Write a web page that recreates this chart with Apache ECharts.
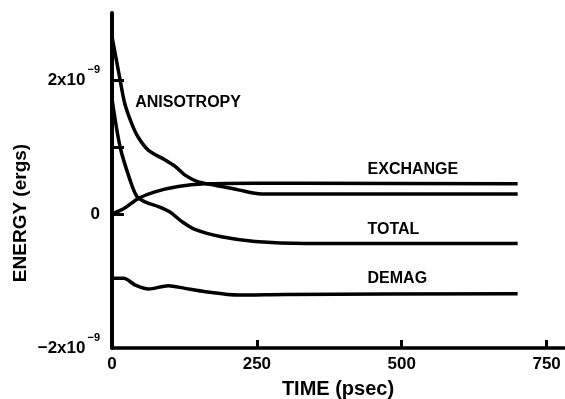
<!DOCTYPE html>
<html>
<head>
<meta charset="utf-8">
<script src="https://cdn.jsdelivr.net/npm/echarts@6/dist/echarts.min.js"></script>
<style>
  html, body { margin: 0; padding: 0; background: #fff; }
  #chart { width: 565px; height: 399px; }
</style>
</head>
<body>
<div id="chart"></div>
<script>
// Energies are in units of 1e-9 ergs; time in psec.
const xTickValues = [0, 250, 500, 750];
const yLabelValues = [-2, 0, 2];
const yTickValues = [0, 1, 2];

const anisotropyTime   = [0, 14, 22, 34, 45, 63, 91, 109, 126, 149, 178, 218, 258, 333, 700];
const anisotropyEnergy = [2.65, 2.00, 1.65, 1.35, 1.15, 0.95, 0.81, 0.71, 0.58, 0.48, 0.43, 0.36, 0.30, 0.30, 0.30];

const exchangeTime   = [0, 22, 45, 74, 114, 160, 247, 333, 700];
const exchangeEnergy = [0, 0.09, 0.23, 0.33, 0.41, 0.45, 0.46, 0.46, 0.45];

const totalTime   = [0, 14, 31, 43, 57, 80, 100, 120, 143, 189, 247, 333, 700];
const totalEnergy = [1.72, 1.00, 0.51, 0.26, 0.18, 0.11, 0.03, -0.11, -0.23, -0.34, -0.41, -0.44, -0.44];

const demagTime   = [0, 20, 40, 63, 97, 126, 161, 218, 300, 700];
const demagEnergy = [-0.96, -0.96, -1.06, -1.12, -1.07, -1.11, -1.16, -1.21, -1.20, -1.19];

const curveNames = ['ANISOTROPY', 'EXCHANGE', 'TOTAL', 'DEMAG'];
const curveLabelAt = [[40, 1.67], [441, 0.67], [441, -0.24], [441, -0.97]];

const fontFamily = "'Liberation Sans', Arial, Helvetica, sans-serif";
const black = '#000';

function pairs(ts, vs) { return ts.map((t, i) => [t, vs[i]]); }

function makeSeries(name, ts, vs, idx) {
  return {
    name: name,
    type: 'line',
    data: pairs(ts, vs),
    smooth: 0.3,
    showSymbol: false,
    symbol: 'none',
    lineStyle: { color: black, width: 3.5 },
    markPoint: {
      symbol: 'circle',
      symbolSize: 0,
      silent: true,
      data: [{ coord: curveLabelAt[idx] }],
      label: {
        show: true,
        position: 'right',
        distance: 0,
        formatter: name,
        color: black,
        fontFamily: fontFamily,
        fontWeight: 'bold',
        fontSize: 16
      }
    }
  };
}

const chart = echarts.init(document.getElementById('chart'), null, { renderer: 'canvas' });
chart.setOption({
  animation: false,
  backgroundColor: '#fff',
  grid: { left: 112, right: 1, top: 13, bottom: 51, containLabel: false, outerBoundsMode: 'none' },
  xAxis: {
    type: 'value',
    min: 0,
    max: 780,
    interval: 250,
    axisLine: { onZero: false, lineStyle: { color: black, width: 3.5 } },
    axisTick: { customValues: xTickValues.slice(1), inside: true, length: 8, lineStyle: { color: black, width: 3 } },
    axisLabel: { customValues: xTickValues, margin: 8, color: black, fontFamily: fontFamily, fontWeight: 'bold', fontSize: 17 },
    splitLine: { show: false },
    name: 'TIME (psec)',
    nameLocation: 'middle',
    nameGap: 31,
    nameTextStyle: { color: black, fontFamily: fontFamily, fontWeight: 'bold', fontSize: 20 }
  },
  yAxis: {
    type: 'value',
    min: -2,
    max: 3,
    interval: 1,
    axisLine: { onZero: false, lineStyle: { color: black, width: 4 } },
    axisTick: { customValues: yTickValues, inside: true, length: 12, lineStyle: { color: black, width: 3 } },
    axisLabel: {
      customValues: yLabelValues,
      margin: 12,
      formatter: function (v) {
        if (v === 0) return '{b|0}';
        return '{b|' + (v < 0 ? '\u2212' : '') + Math.abs(v) + 'x10}{s|\u22129}';
      },
      rich: {
        b: { color: black, fontFamily: fontFamily, fontWeight: 'bold', fontSize: 17, verticalAlign: 'middle', lineHeight: 32 },
        s: { color: black, fontFamily: fontFamily, fontWeight: 'bold', fontSize: 11, verticalAlign: 'top', lineHeight: 10, padding: [0, 0, 0, 2] }
      }
    },
    splitLine: { show: false }
  },
  graphic: [{
    type: 'text',
    x: 21,
    y: 213,
    rotation: Math.PI / 2,
    style: {
      text: 'ENERGY (ergs)',
      align: 'center',
      verticalAlign: 'middle',
      fill: black,
      font: 'bold 19px ' + fontFamily
    }
  }],
  series: [
    makeSeries(curveNames[0], anisotropyTime, anisotropyEnergy, 0),
    makeSeries(curveNames[1], exchangeTime, exchangeEnergy, 1),
    makeSeries(curveNames[2], totalTime, totalEnergy, 2),
    makeSeries(curveNames[3], demagTime, demagEnergy, 3)
  ]
});
</script>
</body>
</html>
